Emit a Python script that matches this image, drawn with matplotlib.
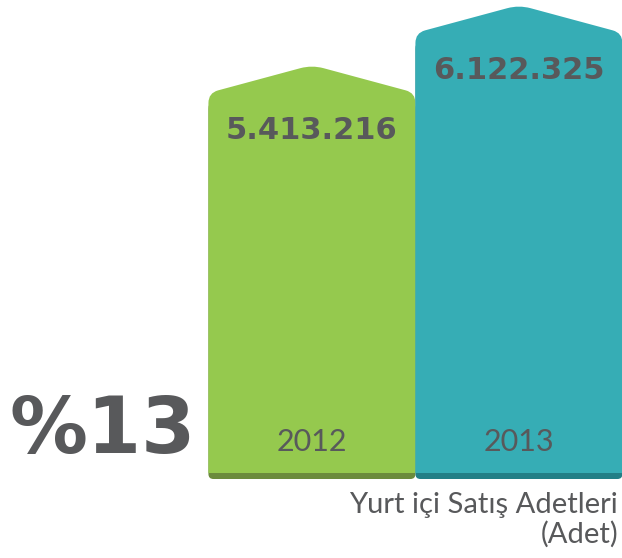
import matplotlib
matplotlib.use("Agg")
import matplotlib.pyplot as plt
from matplotlib.path import Path
from matplotlib.patches import PathPatch
import numpy as np

years = ["2012", "2013"]
values = [5413216, 6122325]
value_labels = ["5.413.216", "6.122.325"]
growth_label = "%13"
caption_lines = ["Yurt içi Satış Adetleri", "(Adet)"]

colors = ["#95c94e", "#36adb5"]
shadow_colors = ["#6b8b3c", "#227f86"]
text_color = "#58595b"

W, H = 622, 558
fig = plt.figure(figsize=(W / 100, H / 100), dpi=100)
ax = fig.add_axes([0, 0, 1, 1])
ax.set_axis_off()

# scales (truncated value axis, as in the infographic)
base = 922000
ax.set_xlim(-1.507, 1.498)
ax.set_ylim(-82500, 6512000)

roof = 330000      # roof height in data units
bar_w = 1.0

def rounded_path(pts_disp, radii):
    verts, codes = [], []
    n = len(pts_disp)
    for i in range(n):
        p0 = np.array(pts_disp[i - 1]); p1 = np.array(pts_disp[i]); p2 = np.array(pts_disp[(i + 1) % n])
        r = radii[i]
        d1 = (p0 - p1) / np.linalg.norm(p0 - p1)
        d2 = (p2 - p1) / np.linalg.norm(p2 - p1)
        a = p1 + d1 * r
        b = p1 + d2 * r
        verts.append(a); codes.append(Path.MOVETO if i == 0 else Path.LINETO)
        verts += [p1, b]; codes += [Path.CURVE3, Path.CURVE3]
    verts.append(verts[0]); codes.append(Path.CLOSEPOLY)
    return np.array(verts), codes

def house(x, v, offset_px=0, radii=(4, 4, 10, 12, 10)):
    pts = [(x - bar_w / 2, base), (x + bar_w / 2, base),
           (x + bar_w / 2, v), (x, v + roof), (x - bar_w / 2, v)]
    disp = ax.transData.transform(pts)
    disp[:, 1] -= offset_px
    verts, codes = rounded_path(disp, radii)
    data = ax.transData.inverted().transform(verts)
    return Path(data, codes)

fig.canvas.draw()
xs = np.arange(len(years))
for i, (x, v) in enumerate(zip(xs, values)):
    sp = house(x, v, offset_px=6, radii=(5, 5, 10, 12, 10))
    ax.add_patch(PathPatch(sp, facecolor=shadow_colors[i], edgecolor="none", zorder=1))
    mp = house(x, v, offset_px=0, radii=(0.01, 0.01, 10, 12, 10))
    ax.add_patch(PathPatch(mp, facecolor=colors[i], edgecolor="none", zorder=2))
    ax.annotate(value_labels[i], xy=(x, v), xytext=(0, -38), textcoords="offset pixels",
                ha="center", va="center", fontsize=22, fontweight="bold",
                color=text_color, family="DejaVu Sans", zorder=3)
    ax.annotate(years[i], xy=(x, base), xytext=(0, 31), textcoords="offset pixels",
                ha="center", va="center", fontsize=22,
                color=text_color, family="Lato", zorder=3)

fig.text(10 / W, 1 - 431 / H, growth_label, ha="left", va="center", fontsize=56,
         fontweight="bold", color=text_color, family="DejaVu Sans")
fig.text(618 / W, 1 - 505 / H, caption_lines[0], ha="right", va="center", fontsize=21,
         color=text_color, family="Lato")
fig.text(618 / W, 1 - 534 / H, caption_lines[1], ha="right", va="center", fontsize=21,
         color=text_color, family="Lato")

fig.savefig("out.png", dpi=100)
